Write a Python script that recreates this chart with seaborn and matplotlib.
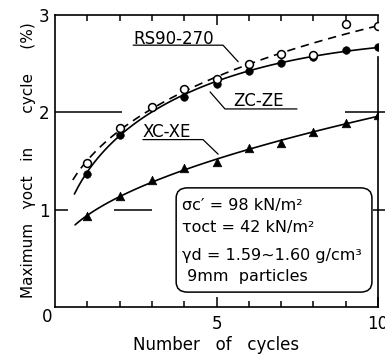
import numpy as np
import pandas as pd
import matplotlib.pyplot as plt
import seaborn as sns
from matplotlib.patches import FancyBboxPatch

# data
cycles = [1, 2, 3, 4, 5, 6, 7, 8, 9, 10]
rs90_270 = [1.48, 1.84, 2.06, 2.24, 2.34, 2.50, 2.60, 2.59, 2.91, 2.89]
zc_ze = [1.37, 1.77, 2.06, 2.16, 2.29, 2.42, 2.51, 2.57, 2.64, 2.67]
xc_xe = [0.93, 1.14, 1.30, 1.43, 1.49, 1.63, 1.68, 1.80, 1.89, 1.97]
curve_start = {'RS90-270': 0.55, 'ZC-ZE': 0.6, 'XC-XE': 0.62}

box_lines = ['σc′ = 98 kN/m²', 'τoct = 42 kN/m²', 'γd = 1.59~1.60 g/cm³', ' 9mm  particles']

sns.set_style('ticks', {'axes.edgecolor': 'black', 'text.color': 'black', 'axes.labelcolor': 'black',
                        'xtick.color': 'black', 'ytick.color': 'black'})
plt.rcParams['font.family'] = ['DejaVu Sans']

fig = plt.figure(figsize=(3.85, 3.55), dpi=100)
ax = fig.add_axes([0.1429, 0.1352, 0.8391, 0.8225])

pts = pd.DataFrame({'cycles': cycles * 3,
                    'strain': rs90_270 + zc_ze + xc_xe,
                    'series': ['RS90-270'] * 10 + ['ZC-ZE'] * 10 + ['XC-XE'] * 10})

# smooth fitted curves (quadratic in sqrt(N))
curves = []
for name, grp in pts.groupby('series'):
    coef = np.polyfit(np.sqrt(grp['cycles']), grp['strain'], 2)
    xs = np.linspace(curve_start[name], 10, 80)
    curves.append(pd.DataFrame({'cycles': xs, 'strain': np.polyval(coef, np.sqrt(xs)), 'series': name}))
curves = pd.concat(curves)

lw = 1.2
sns.lineplot(data=curves[curves.series == 'RS90-270'], x='cycles', y='strain', color='black',
             lw=lw, linestyle=(0, (5, 3.5)), ax=ax)
for name in ['ZC-ZE', 'XC-XE']:
    sns.lineplot(data=curves[curves.series == name], x='cycles', y='strain', color='black', lw=lw, ax=ax)

sns.scatterplot(data=pts[pts.series == 'RS90-270'], x='cycles', y='strain', marker='o', s=32,
                facecolor='white', edgecolor='black', linewidth=1.1, zorder=5, ax=ax)
sns.scatterplot(data=pts[pts.series == 'ZC-ZE'], x='cycles', y='strain', marker='o', s=30,
                color='black', edgecolor='black', zorder=4, ax=ax)
sns.scatterplot(data=pts[pts.series == 'XC-XE'], x='cycles', y='strain', marker='^', s=38,
                color='black', edgecolor='black', zorder=4, ax=ax)

ax.set_xlim(0, 10)
ax.set_ylim(0, 3)

# axes frame and ticks
for s in ax.spines.values():
    s.set_linewidth(1.2)
ax.spines['right'].set_bounds(0, 2.57)
ax.set_xticks([5, 10])
ax.set_xticklabels(['5', '10'])
ax.set_xticks(range(1, 10), minor=True)
ax.tick_params(axis='x', which='both', direction='in', top=True, bottom=True, width=1.1,
               labelsize=12, pad=6)
ax.tick_params(axis='x', which='major', length=7)
ax.tick_params(axis='x', which='minor', length=4)
ax.set_yticks([1, 2, 3])
ax.set_yticklabels(['1', '2', '3'])
ax.tick_params(axis='y', which='both', length=0, labelsize=12, pad=4)
ax.text(-0.025, -0.034, '0', transform=ax.transAxes, ha='center', va='center', fontsize=12)

# partial reference lines as in the original
ax.hlines(2, 0, 2.07, color='black', lw=1.1)
ax.hlines(1, 0, 0.4, color='black', lw=1.1)
ax.hlines(1, 1.83, 3.0, color='black', lw=1.1)
ax.hlines(2, 8.98, 10.2, color='black', lw=1.1, clip_on=False)
ax.hlines(1, 9.85, 10.2, color='black', lw=1.1, clip_on=False)

ax.set_xlabel('Number   of   cycles', fontsize=12)
ax.xaxis.set_label_coords(0.5, -0.1)
ax.set_ylabel('Maximum   γoct   in       cycle     (%)', fontsize=11)
ax.yaxis.set_label_coords(-0.06, 0.503)

# series labels with leader lines
ax.text(2.42, 2.75, 'RS90-270', fontsize=12, va='center')
ax.plot([2.42, 5.2, 5.67], [2.69, 2.69, 2.52], color='black', lw=0.9)
ax.text(5.51, 2.12, 'ZC-ZE', fontsize=12, va='center')
ax.plot([7.49, 5.26, 4.80], [2.035, 2.035, 2.21], color='black', lw=0.9)
ax.text(2.72, 1.80, 'XC-XE', fontsize=12, va='center')
ax.plot([2.72, 4.58, 5.05], [1.72, 1.72, 1.57], color='black', lw=0.9)

# conditions box
box = FancyBboxPatch((0.385, 0.061), 0.586, 0.337, boxstyle='round,pad=0.01,rounding_size=0.035',
                     transform=ax.transAxes, facecolor='white', edgecolor='black', lw=1.1, zorder=6)
ax.add_patch(box)
for line, yy in zip(box_lines, [0.349, 0.271, 0.178, 0.103]):
    ax.text(0.393, yy, line, transform=ax.transAxes, fontsize=11.5, va='center', zorder=7)

fig.savefig('out.png', dpi=100)
